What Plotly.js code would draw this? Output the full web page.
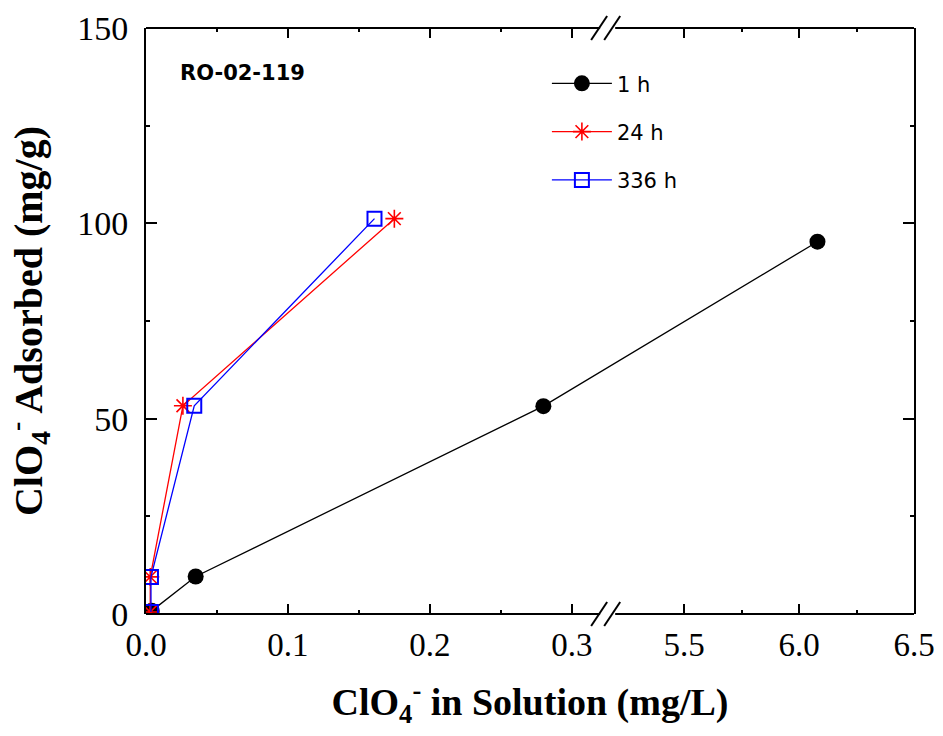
<!DOCTYPE html>
<html>
<head>
<meta charset="utf-8">
<script src="https://cdn.plot.ly/plotly-3.0.1.min.js"></script>
<style>html,body{margin:0;padding:0;background:#fff;}#chart{width:943px;height:736px;}</style>
</head>
<body>
<div id="chart"></div>
<script>
// ---- data ----
const seriesNames = ['1 h', '24 h', '336 h'];
const x1h   = [0.004, 0.035, 0.280, 6.08];
const y1h   = [0.8, 9.6, 53.2, 95.3];
const x24h  = [0.003, 0.003, 0.026, 0.175];
const y24h  = [0.5, 9.5, 53.3, 101.2];
const x336h = [0.0035, 0.0035, 0.034, 0.161];
const y336h = [0.5, 9.5, 53.3, 101.2];
const xTickVals = [0.0, 0.1, 0.2, 0.3, 5.5, 6.0, 6.5];
const xTickText = ['0.0', '0.1', '0.2', '0.3', '5.5', '6.0', '6.5'];
const xMinorVals = [0.05, 0.15, 0.25, 5.75, 6.25];
const yTickVals = [0, 50, 100, 150];
const yMinorVals = [25, 75, 125];

// ---- broken x axis mapping ----
const BRK_L = 0.32, BRK_R = 5.2, GAP = 0.0106, SCALE = 1420 / 230;
const u = x => x <= BRK_L ? x : BRK_L + GAP + (x - BRK_R) / SCALE;
const X_MAX = u(6.5);

const serif = 'Liberation Serif, Times New Roman, serif';
const sans = 'DejaVu Sans, Arial, sans-serif';

const traces = [
  {x: x1h.map(u), y: y1h, name: seriesNames[0], legendgroup: 'a', mode: 'lines+markers',
   line: {color: '#000', width: 1.3}, marker: {symbol: 'circle', size: 16, color: '#000'}},
  {x: x24h.map(u), y: y24h, name: seriesNames[1], legendgroup: 'b', mode: 'lines+markers',
   line: {color: '#ff0000', width: 1.3}, marker: {symbol: 'asterisk-open', size: 15, color: '#ff0000', line: {color: '#ff0000', width: 1.6}}},
  {x: x336h.map(u), y: y336h, name: seriesNames[2], legendgroup: 'c', mode: 'lines+markers',
   line: {color: '#0000ff', width: 1.3}, marker: {symbol: 'square-open', size: 14, color: '#0000ff', line: {color: '#0000ff', width: 2}}},
  {x: [], y: [], yaxis: 'y2', showlegend: false, hoverinfo: 'skip'}
];

const lineStyle = {color: '#000', width: 2};
const slash = (xa, ya, dx) => ({type: 'line', xref: 'x', yref: 'paper', xsizemode: 'pixel', ysizemode: 'pixel',
  xanchor: xa, yanchor: ya, x0: dx - 8, x1: dx + 8, y0: -12, y1: 12, line: {color: '#000', width: 2}});

const shapes = [
  {type: 'line', xref: 'x', yref: 'paper', x0: 0, x1: u(BRK_L), y0: 0, y1: 0, line: lineStyle},
  {type: 'line', xref: 'x', yref: 'paper', x0: u(BRK_R), x1: X_MAX, y0: 0, y1: 0, line: lineStyle},
  {type: 'line', xref: 'x', yref: 'paper', x0: 0, x1: u(BRK_L), y0: 1, y1: 1, line: lineStyle},
  {type: 'line', xref: 'x', yref: 'paper', x0: u(BRK_R), x1: X_MAX, y0: 1, y1: 1, line: lineStyle},
  slash(u(BRK_L), 0, -1), slash(u(BRK_R), 0, -3),
  slash(u(BRK_L), 1, -1), slash(u(BRK_R), 1, -3)
];

const layout = {
  width: 943, height: 736,
  margin: {l: 146, r: 29, t: 28, b: 122},
  paper_bgcolor: '#fff', plot_bgcolor: '#fff',
  showlegend: true,
  legend: {x: 0.522, y: 0.94, xanchor: 'left', yanchor: 'top', traceorder: 'grouped', tracegroupgap: 18,
           font: {family: sans, size: 21, color: '#000'}, bgcolor: 'rgba(0,0,0,0)', itemwidth: 60},
  xaxis: {range: [0, X_MAX], showline: false, zeroline: false, showgrid: false,
          tickmode: 'array', tickvals: xTickVals.map(u), ticktext: xTickText,
          ticks: 'inside', ticklen: 10, tickwidth: 2, tickcolor: '#000', mirror: 'ticks',
          ticklabelstandoff: 8,
          minor: {tickmode: 'array', tickvals: xMinorVals.map(u), ticks: 'inside', ticklen: 4, tickwidth: 2, tickcolor: '#000'},
          tickfont: {family: serif, size: 33, color: '#000'},
          title: {text: '<b>ClO<sub>4</sub><sup>-</sup> in Solution (mg/L)</b>', font: {family: serif, size: 38, color: '#000'}, standoff: 26}},
  yaxis: {range: [0, 150], showline: true, linecolor: '#000', linewidth: 2, zeroline: false, showgrid: false,
          tickmode: 'array', tickvals: yTickVals, ticks: 'inside', ticklen: 11, tickwidth: 2, tickcolor: '#000',
          ticklabelstandoff: 9,
          minor: {tickmode: 'array', tickvals: yMinorVals, ticks: 'inside', ticklen: 4, tickwidth: 2, tickcolor: '#000'},
          tickfont: {family: serif, size: 34, color: '#000'},
          title: {text: '<b>ClO<sub>4</sub><sup>-</sup> Adsorbed (mg/g)</b>', font: {family: serif, size: 40, color: '#000'}, standoff: 26}},
  yaxis2: {range: [0, 150], overlaying: 'y', side: 'right', anchor: 'x', showline: true, linecolor: '#000', linewidth: 2,
           zeroline: false, showgrid: false, showticklabels: false,
           tickmode: 'array', tickvals: yTickVals, ticks: 'inside', ticklen: 11, tickwidth: 2, tickcolor: '#000',
           minor: {tickmode: 'array', tickvals: yMinorVals, ticks: 'inside', ticklen: 4, tickwidth: 2, tickcolor: '#000'}},
  shapes: shapes,
  annotations: [
    {text: '<b>RO-02-119</b>', xref: 'paper', yref: 'paper', x: 0.042, y: 0.923, xanchor: 'left', yanchor: 'middle',
     showarrow: false, font: {family: sans, size: 21, color: '#000'}}
  ]
};

Plotly.newPlot('chart', traces, layout, {staticPlot: true, displayModeBar: false});
</script>
</body>
</html>
